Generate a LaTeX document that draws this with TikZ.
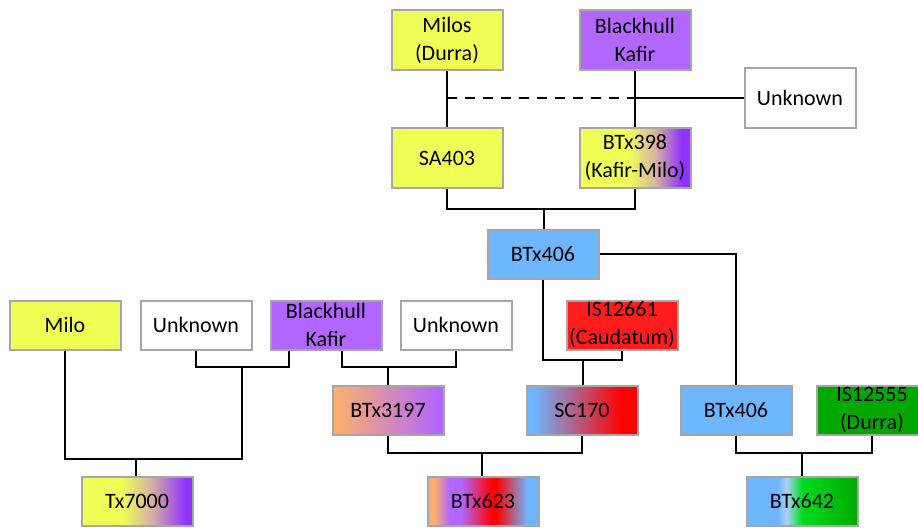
\documentclass[tikz,border=0pt]{standalone}
\usepackage{fontspec}
\setmainfont{Carlito}
\definecolor{cyel}{RGB}{240,255,85}
\definecolor{cpur}{RGB}{178,102,255}
\definecolor{cpud}{RGB}{145,50,255}
\definecolor{cblu}{RGB}{110,182,255}
\definecolor{cbll}{RGB}{170,210,255}
\definecolor{cred}{RGB}{255,28,28}
\definecolor{crdd}{RGB}{255,0,0}
\definecolor{cgrn}{RGB}{0,168,0}
\definecolor{cgrl}{RGB}{0,220,30}
\definecolor{cora}{RGB}{250,175,110}
\definecolor{ctan}{RGB}{215,180,160}
\definecolor{cbrd}{RGB}{166,166,166}
\pgfdeclarehorizontalshading{kafirmilo}{100bp}{color(0bp)=(cyel); color(47bp)=(cyel); color(59bp)=(ctan); color(71bp)=(cpud); color(100bp)=(cpud)}
\pgfdeclarehorizontalshading{milokafir}{100bp}{color(0bp)=(cyel); color(43bp)=(cyel); color(56bp)=(ctan); color(72bp)=(cpud); color(100bp)=(cpud)}
\pgfdeclarehorizontalshading{orapur}{100bp}{color(0bp)=(cora); color(27bp)=(cora); color(73bp)=(cpur); color(100bp)=(cpur)}
\pgfdeclarehorizontalshading{blured}{100bp}{color(0bp)=(cblu); color(28bp)=(cblu); color(68bp)=(crdd); color(100bp)=(crdd)}
\pgfdeclarehorizontalshading{fourway}{100bp}{color(0bp)=(cora); color(28bp)=(cora); color(35bp)=(cpur); color(40bp)=(cpur); color(54bp)=(crdd); color(56bp)=(crdd); color(70bp)=(cblu); color(100bp)=(cblu)}
\pgfdeclarehorizontalshading{blugrn}{100bp}{color(0bp)=(cblu); color(39bp)=(cblu); color(43bp)=(cbll); color(50bp)=(cgrl); color(75bp)=(cgrn); color(100bp)=(cgrn)}

\begin{document}
\begin{tikzpicture}[x=.5pt,y=-.5pt,
        box/.style={draw=cbrd, line width=1pt, minimum width=55.5pt, minimum height=24.5pt,
                    inner sep=0pt, align=center, font=\fontsize{11}{14}\selectfont},
        tall/.style={minimum height=30pt},
        mixed/.style={shade, shading=#1},
        wire/.style={line width=1pt, black}]
        \useasboundingbox (0,0) rectangle (918,527);

        % top of the tree
        \node[box,tall,fill=cyel            ] (milos)     at (447,40)  {Milos\\(Durra)};
        \node[box,tall,fill=cpur            ] (blackhull) at (635,40)  {Blackhull\\Kafir};
        \node[box,tall,fill=white           ] (unkT)      at (800,98)  {Unknown};
        \node[box,tall,fill=cyel            ] (sa403)     at (447,158) {SA403};
        \node[box,tall,mixed=kafirmilo      ] (btx398)    at (635,158) {BTx398\\(Kafir-Milo)};
        \node[box,     fill=cblu            ] (btx406)    at (543,254) {BTx406};

        % middle rows
        \node[box,fill=cyel                 ] (milo)      at (65,325)  {Milo};
        \node[box,fill=white                ] (unkA)      at (196,325) {Unknown};
        \node[box,fill=cpur                 ] (bkafir)    at (326,325) {Blackhull\\Kafir};
        \node[box,fill=white                ] (unkB)      at (456,325) {Unknown};
        \node[box,fill=cred                 ] (is12661)   at (622,325) {IS12661\\(Caudatum)};

        \node[box,mixed=orapur              ] (btx3197)   at (388,410) {BTx3197};
        \node[box,mixed=blured              ] (sc170)     at (582,410) {SC170};
        \node[box,fill=cblu                 ] (btx406b)   at (736,410) {BTx406};
        \node[box,fill=cgrn                 ] (is12555)   at (872,410) {IS12555\\(Durra)};

        % lines
        \node[box,mixed=milokafir           ] (tx7000)    at (137,501) {Tx7000};
        \node[box,mixed=fourway             ] (btx623)    at (483,501) {BTx623};
        \node[box,mixed=blugrn              ] (btx642)    at (802,501) {BTx642};

        \coordinate (j1)  at (544,209);
        \coordinate (j2)  at (583,360);
        \coordinate (j3)  at (242,367);
        \coordinate (j4)  at (136,459);
        \coordinate (j5)  at (388,367);
        \coordinate (j6)  at (482,453);
        \coordinate (j7)  at (802,453);
        \coordinate (bkL) at ([xshift=-18.5pt]bkafir.south);
        \coordinate (bkR) at ([xshift=8pt]bkafir.south);

        \draw[wire] (milos) -- (sa403);
        \draw[wire] (blackhull) -- (btx398);
        \draw[wire,dash pattern=on 5pt off 4pt] (milos |- unkT) -- (blackhull |- unkT);
        \draw[wire] (blackhull |- unkT) -- (unkT);
        \draw[wire] (sa403) |- (j1) -| (btx398);
        \draw[wire] (j1) -- (j1 |- btx406.north);
        \draw[wire] (btx406) -| (btx406b);
        \draw[wire] (btx406) |- (j2) -| (is12661);
        \draw[wire] (j2) -- (j2 |- sc170.north);

        \draw[wire] (unkA) |- (j3) -| (bkL);
        \draw[wire] (milo) |- (j4) -| (j3);
        \draw[wire] (j4) -- (j4 |- tx7000.north);
        \draw[wire] (bkR) |- (j5) -| (unkB);
        \draw[wire] (j5) -- (j5 |- btx3197.north);
        \draw[wire] (btx3197) |- (j6) -| (sc170);
        \draw[wire] (j6) -- (j6 |- btx623.north);
        \draw[wire] (btx406b) |- (j7) -| (is12555);
        \draw[wire] (j7) -- (j7 |- btx642.north);
\end{tikzpicture}
\end{document}
